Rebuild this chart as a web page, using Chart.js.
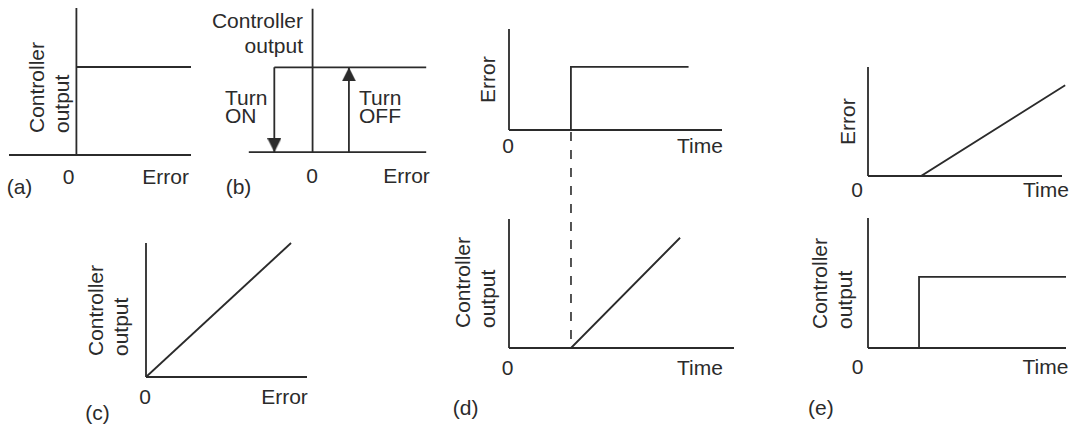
<!DOCTYPE html>
<html>
<head>
<meta charset="utf-8">
<script src="https://cdn.jsdelivr.net/npm/chart.js@4"></script>
<style>
  body { margin: 0; width: 1076px; height: 430px; position: relative; overflow: hidden; background: #fff;
         font-family: "Liberation Sans", Arial, sans-serif; color: #2b2b2b; }
  canvas { position: absolute; }
  .t { position: absolute; font-size: 21px; line-height: 1; white-space: nowrap; transform: translate(-50%, -50%); }
  .r { position: absolute; font-size: 21px; line-height: 1.2; white-space: nowrap; transform-origin: 0 0; transform: rotate(-90deg) translateY(-50%); }
  .turn { position: absolute; font-size: 21px; line-height: 18px; white-space: nowrap; }
</style>
</head>
<body>
<!-- (a) -->
<div class="r" style="left:48.6px;top:133px">Controller<br>output</div>
<div class="t" style="left:68.5px;top:175.5px">0</div>
<div class="t" style="left:165.7px;top:175.5px">Error</div>
<div class="t" style="left:19.5px;top:186px">(a)</div>
<!-- (b) -->
<div class="t" style="left:303px;top:7.6px;line-height:1.2;text-align:right;transform:translateX(-100%)">Controller<br>output</div>
<div class="turn" style="left:225px;top:88.7px">Turn<br>ON</div>
<div class="turn" style="left:359px;top:88.7px">Turn<br>OFF</div>
<div class="t" style="left:312px;top:175px">0</div>
<div class="t" style="left:406.5px;top:175px">Error</div>
<div class="t" style="left:238.5px;top:186px">(b)</div>
<!-- (c) -->
<div class="r" style="left:108.3px;top:356px">Controller<br>output</div>
<div class="t" style="left:145px;top:396px">0</div>
<div class="t" style="left:284.5px;top:396px">Error</div>
<div class="t" style="left:97.5px;top:412px">(c)</div>
<!-- (d) -->
<div class="r" style="left:487.5px;top:103px">Error</div>
<div class="t" style="left:508px;top:144.5px">0</div>
<div class="t" style="left:700px;top:144.5px">Time</div>
<div class="r" style="left:475.3px;top:328px">Controller<br>output</div>
<div class="t" style="left:507.5px;top:367px">0</div>
<div class="t" style="left:700px;top:367px">Time</div>
<div class="t" style="left:465.7px;top:407px">(d)</div>
<!-- (e) -->
<div class="r" style="left:847.5px;top:145px">Error</div>
<div class="t" style="left:857px;top:188.5px">0</div>
<div class="t" style="left:1046px;top:188.5px">Time</div>
<div class="r" style="left:831.8px;top:329px">Controller<br>output</div>
<div class="t" style="left:857.5px;top:365.5px">0</div>
<div class="t" style="left:1045.5px;top:365.5px">Time</div>
<div class="t" style="left:820.8px;top:407px">(e)</div>

<script>
const ink = '#2b2b2b';

// (a) on-off control
const onOffErr = [0, 1.7];
const onOffOut = [1, 1];

// (b) on-off with a dead band
const bandErr = [-1, 2.97];
const bandOut = [1, 1];
const turnOnErr = [-1, -1];
const turnOnOut = [1, 0];
const turnOffErr = [0.95, 0.95];
const turnOffOut = [0, 1];

// (c) proportional
const propErr = [0, 1];
const propOut = [0, 1];

// (d) integral: step error -> ramp output
const stepTime = [0, 1, 1, 2.9];
const stepErr = [0, 0, 1, 1];
const intTime = [0, 1, 2.76];
const intOut = [0, 0, 1];
const markTime = [1, 1];
const markLevel = [0, 1.98];

// (e) derivative: ramp error -> step output
const rampTime = [0, 1, 3.72];
const rampErr = [0, 0, 1];
const derivTime = [0, 1, 1, 3.88];
const derivOut = [0, 0, 1, 1];

const pts = (xs, ys) => xs.map((x, i) => ({ x: x, y: ys[i] }));

// axes crossing at 0,0, drawn from the scales
const axesPlugin = {
  id: 'axes',
  beforeDatasetsDraw(chart) {
    const { ctx, chartArea: a, scales: { x, y } } = chart;
    const x0 = x.getPixelForValue(0), y0 = y.getPixelForValue(0);
    ctx.save();
    ctx.strokeStyle = ink;
    ctx.lineWidth = 1.8;
    ctx.beginPath();
    ctx.moveTo(a.left, y0); ctx.lineTo(a.right, y0);
    ctx.moveTo(x0, a.top); ctx.lineTo(x0, a.bottom);
    ctx.stroke();
    ctx.restore();
  }
};

function arrowHead(up) {
  const c = document.createElement('canvas');
  c.width = 14; c.height = 28;
  const g = c.getContext('2d');
  g.fillStyle = ink;
  g.beginPath();
  if (up) { g.moveTo(7, 14); g.lineTo(0, 28); g.lineTo(14, 28); }
  else { g.moveTo(7, 14); g.lineTo(0, 0); g.lineTo(14, 0); }
  g.closePath();
  g.fill();
  return c;
}
const arrowUp = arrowHead(true);
const arrowDown = arrowHead(false);

function panel(area, xr, yr, sets, extraTop) {
  const pad = 6, top = extraTop || 0;
  const cv = document.createElement('canvas');
  const w = area[2] - area[0] + 2 * pad;
  const h = area[3] - area[1] + 2 * pad + top;
  cv.width = w; cv.height = h;
  cv.style.left = (area[0] - pad) + 'px';
  cv.style.top = (area[1] - pad - top) + 'px';
  cv.style.width = w + 'px';
  cv.style.height = h + 'px';
  document.body.appendChild(cv);
  new Chart(cv, {
    type: 'line',
    data: {
      datasets: sets.map(s => Object.assign({
        borderColor: ink, borderWidth: 1.8, pointRadius: 0,
        clip: false, tension: 0, fill: false
      }, s))
    },
    options: {
      responsive: false,
      animation: false,
      devicePixelRatio: 1,
      layout: { padding: { left: pad, right: pad, bottom: pad, top: pad + top } },
      plugins: { legend: { display: false }, tooltip: { enabled: false } },
      scales: {
        x: { type: 'linear', display: false, min: xr[0], max: xr[1] },
        y: { type: 'linear', display: false, min: yr[0], max: yr[1] }
      }
    },
    plugins: [axesPlugin]
  });
}

// (a)
panel([9, 8, 191, 155], [-1, 1.7], [0, 1.67], [
  { data: pts(onOffErr, onOffOut) }
]);

// (b)
panel([247, 7, 428, 154], [-1.667, 2.97], [0, 1.69], [
  { data: pts(bandErr, bandOut) },
  { data: pts(turnOnErr, turnOnOut), pointStyle: arrowDown, pointRadius: [0, 6] },
  { data: pts(turnOffErr, turnOffOut), pointStyle: arrowUp, pointRadius: [0, 6] }
]);

// (c)
panel([146, 243, 307, 377], [0, 1.11], [0, 1], [
  { data: pts(propErr, propOut) }
]);

// (d)
panel([509, 29, 722, 130], [0, 3.44], [0, 1.6], [
  { data: pts(stepTime, stepErr) }
]);
panel([509, 219, 734, 348], [0, 3.63], [0, 1.17], [
  { data: pts(intTime, intOut) },
  { data: pts(markTime, markLevel), borderDash: [9, 9], borderDashOffset: 9, borderWidth: 1.6 }
], 95);

// (e)
panel([868, 67, 1062, 176], [0, 3.66], [0, 1.2], [
  { data: pts(rampTime, rampErr) }
]);
panel([868, 218, 1066, 348], [0, 3.88], [0, 1.83], [
  { data: pts(derivTime, derivOut) }
]);
</script>
</body>
</html>
